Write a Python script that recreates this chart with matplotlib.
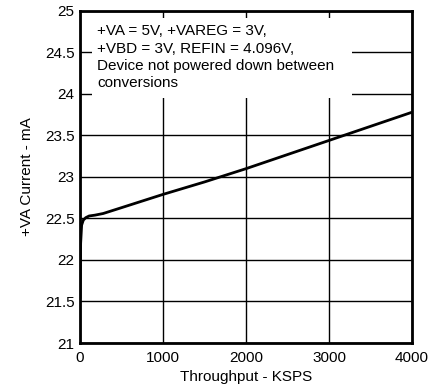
import matplotlib
matplotlib.use("Agg")
import matplotlib.pyplot as plt
from matplotlib.patches import Rectangle

plt.rcParams['font.family'] = ['Liberation Sans', 'DejaVu Sans']

# throughput (KSPS) vs +VA current (mA)
throughput = [0, 8, 20, 40, 70, 110, 180, 280, 500, 1000, 1500, 2000, 2500, 3000, 3500, 4000]
current = [21.55, 22.2, 22.42, 22.48, 22.51, 22.53, 22.54, 22.56, 22.63, 22.79, 22.94, 23.1, 23.27, 23.44, 23.61, 23.78]

xticks = [0, 1000, 2000, 3000, 4000]
yticks = [21, 21.5, 22, 22.5, 23, 23.5, 24, 24.5, 25]
ylabels = ['21', '21.5', '22', '22.5', '23', '23.5', '24', '24.5', '25']

note = ("+VA = 5V, +VAREG = 3V,\n+VBD = 3V, REFIN = 4.096V,\n"
        "Device not powered down between\nconversions")

fig = plt.figure(figsize=(4.37, 3.9), dpi=100)
ax = fig.add_axes([0.183, 0.1205, 0.760, 0.8515])

ax.plot(throughput, current, color='k', lw=2, zorder=3)

ax.set_xlim(0, 4000)
ax.set_ylim(21, 25)
ax.set_xticks(xticks)
ax.set_yticks(yticks)
ax.set_yticklabels(ylabels)
ax.tick_params(length=0, labelsize=11)
ax.tick_params(axis='x', pad=6)
ax.tick_params(axis='y', pad=4)
ax.grid(True, color='k', lw=1)
for s in ax.spines.values():
    s.set_linewidth(2)

ax.set_xlabel('Throughput - KSPS', fontsize=11, labelpad=3)
ax.set_ylabel('+VA Current - mA', fontsize=11, labelpad=8)

# white box behind the conditions note
ax.add_patch(Rectangle((0.036, 0.738), 0.783, 0.241, transform=ax.transAxes,
                       facecolor='white', edgecolor='none', zorder=2.5))
ax.text(0.052, 0.96, note, transform=ax.transAxes, fontsize=11,
        va='top', ha='left', linespacing=1.3, zorder=4)

fig.savefig('out.png', dpi=100)
